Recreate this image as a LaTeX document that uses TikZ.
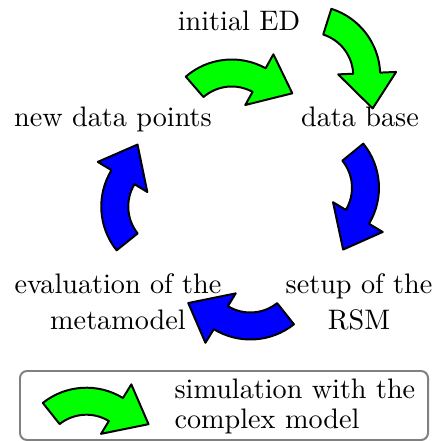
\documentclass[tikz,border=0pt]{standalone}
\definecolor{agreen}{RGB}{0,255,0}
\definecolor{ablue}{RGB}{0,0,255}
\definecolor{boxgray}{RGB}{128,128,128}
\tikzset{
  arrowbody/.style={draw=black, line width=0.7pt, line join=round},
  lbl/.style={font=\normalsize, inner sep=0pt},
}
% #1,#2: middle point (pixel coords), #3: rotation, #4: fill colour
\newcommand{\cycarrow}[4]{%
  \begin{scope}[shift={(#1,#2)}, rotate=#3, x=0.3546pt, y=0.3546pt, shift={(-11.65,-39.35)}]
    \draw[arrowbody, fill=#4] (131:70) arc[start angle=131, end angle=61, radius=70]
      -- (61:86) -- (60.6,36.2) -- (61:28) -- (61:43)
      arc[start angle=61, end angle=131, radius=43] -- cycle;
  \end{scope}}
\begin{document}
\begin{tikzpicture}[x=0.3546pt, y=-0.3546pt]
\useasboundingbox (0,0) rectangle (434,441);
% labels
\node[lbl, anchor=base] (ied) at (239,31) {initial ED};
\node[lbl, anchor=base] (ndp) at (113,126.5) {new data points};
\node[lbl, anchor=base] (db) at (360,126.5) {data base};
\node[lbl, anchor=base, align=center] (eval) at (118,329.3) {evaluation of the\\[0.77pt] metamodel};
\node[lbl, anchor=base, align=center] (rsm) at (359,329.3) {setup of the\\[0.77pt] RSM};
% arrows
\cycarrow{243.35}{90.15}{0}{agreen}
\cycarrow{349.85}{65}{-58.6}{agreen}
\cycarrow{347.9}{200.75}{-91.9}{ablue}
\cycarrow{237}{308.3}{-182.5}{ablue}
\cycarrow{132.4}{193.35}{87.7}{ablue}
% legend
\draw[boxgray, line width=0.7pt, rounded corners=2.5pt] (20,371) rectangle (428,440);
\cycarrow{99.75}{418.9}{-2.5}{agreen}
\node[lbl, anchor=base west, align=left] (sim) at (174,428.3) {simulation with the\\[-1.36pt] complex model};
\end{tikzpicture}
\end{document}
